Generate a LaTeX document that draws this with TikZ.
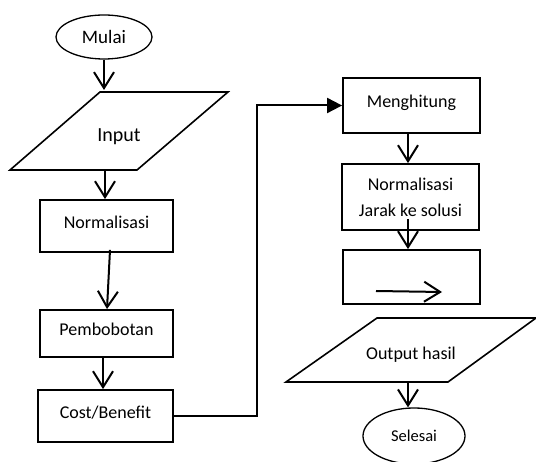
\documentclass[tikz,border=0pt]{standalone}
\usepackage{fontspec}
\setmainfont{Carlito}
\usetikzlibrary{shapes.geometric, arrows.meta, positioning}
\tikzset{myBox/.style={draw, line width=1.8pt, inner sep=0pt, text height=13pt, text depth=8pt, font=\fontsize{18}{22}\selectfont}}
\tikzset{myBoxTwo/.style={draw, line width=1.8pt, inner sep=0pt, align=center, font=\fontsize{18}{26}\selectfont}}
\tikzset{myOval/.style={draw, ellipse, line width=1.3pt, inner sep=0pt}}
\tikzset{myShape/.style={line width=1.6pt, line join=miter}}
\tikzset{myArrow/.style={line width=2pt, -{Straight Barb[length=16pt,width=20pt]}}}
\tikzset{myArrowFill/.style={line width=2pt, -{Triangle[length=15pt,width=15pt]}}}
\newcommand{\fsTeks}{\fontsize{18}{22}\selectfont}

\begin{document}
\begin{tikzpicture}[x=1pt,y=-1pt]
        \useasboundingbox (0,0) rectangle (536,462);
        %\draw[help lines, step=50](0,0) grid(536,462);
		% kolom kiri
		\node[myOval, minimum width=96pt, minimum height=44pt, font=\fontsize{19}{22}\selectfont] (mulai) at (104,37) {Mulai};
		\coordinate (inA) at (100,92);
		\coordinate (inB) at (228,92);
		\coordinate (inC) at (137,170);
		\coordinate (inD) at (10,170);
		\draw[myShape] (inA) -- (inB) -- (inC) -- (inD) -- cycle;
		\node[font=\fontsize{20}{24}\selectfont] (input) at (119,137) {Input};
		\coordinate (inTop) at (104,90);
		\coordinate (inBot) at (105,170);
		\node[myBox, minimum width=133pt, minimum height=52pt] (norm) at (106.5,226) {Normalisasi};
		\node[myBox, minimum width=133pt, minimum height=47pt] (pemb) at (106.5,333.5) {Pembobotan};
		\node[myBox, minimum width=135pt, minimum height=52pt] (cost) at (105.5,416) {Cost/Benefit};
		\draw[myArrow] (mulai.south) -- (inTop);
		\draw[myArrow] (inBot) -- (inBot |- norm.north);
		\draw[myArrow] ([xshift=3.5pt,yshift=3pt]norm.south) -- ([xshift=0.5pt]pemb.north);
		\draw[myArrow] ([xshift=-3.5pt]pemb.south) -- ([xshift=-3.5pt]pemb.south |- cost.north);
		% kolom kanan
		\coordinate (colKanan) at (408,0);
		\coordinate (jalur) at (257,0);
		\node[myBox, minimum width=137pt, minimum height=55pt] (mengh) at (411.5,105.5) {Menghitung};
		\node[myBoxTwo, minimum width=137pt, minimum height=66pt] (jarak) at (410.5,197) {Normalisasi\\Jarak ke solusi};
		\node[myBox, minimum width=137pt, minimum height=54pt] (kosong) at (411.5,277) {};
		\coordinate (jarakArr) at (408,219);
		\coordinate (kosA) at (376,291);
		\coordinate (kosB) at (442,292);
		\draw[myArrow] (kosA) -- (kosB);
		\coordinate (outA) at (377,318);
		\coordinate (outB) at (536,318);
		\coordinate (outC) at (448,382);
		\coordinate (outD) at (286,382);
		\draw[myShape] (outA) -- (outB) -- (outC) -- (outD) -- cycle;
		\node[font=\fsTeks] (output) at (411,355) {Output hasil};
		\node[myOval, minimum width=102pt, minimum height=56pt, font=\fontsize{16.5}{20}\selectfont] (selesai) at (414,436) {Selesai};
		\draw[myArrowFill] (cost.east) -| (jalur |- mengh.west) -- (mengh.west);
		\draw[myArrow] (colKanan |- mengh.south) -- (colKanan |- jarak.north);
		\draw[myArrow] (jarakArr) -- (colKanan |- kosong.north);
		\draw[myArrow] (colKanan |- outC) -- (colKanan |- selesai.north);
	\end{tikzpicture}
\end{document}
